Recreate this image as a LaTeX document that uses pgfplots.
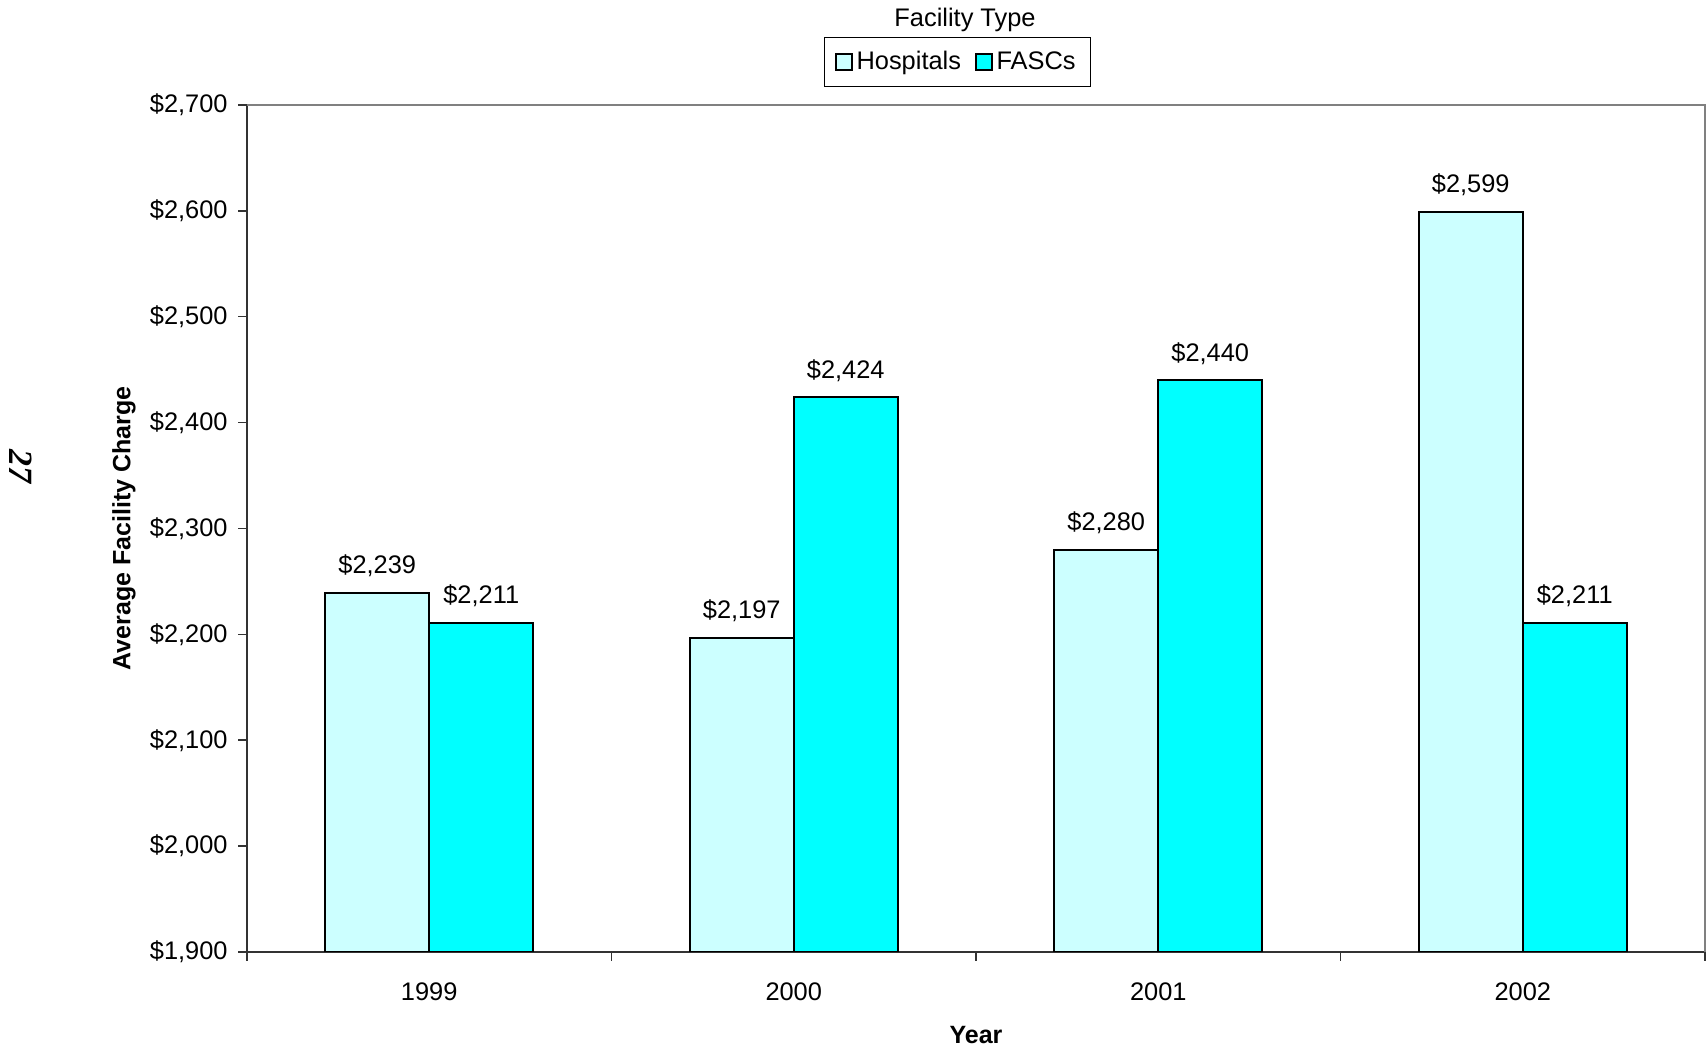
\documentclass[border=0pt]{standalone}
\usepackage{pgfplots}
\pgfplotsset{compat=1.18}
\usepackage{fontspec}
\setmainfont{Liberation Sans}
\newfontfamily\pagefont{Liberation Serif}
\definecolor{hosp}{HTML}{CCFFFF}
\definecolor{fasc}{HTML}{00FFFF}
\definecolor{axgray}{HTML}{808080}

\begin{document}
\begin{tikzpicture}
\useasboundingbox (0,0) rectangle (854pt,524pt);
\begin{axis}[
    name=ax,
    at={(123.5pt,48pt)}, anchor=south west,
    width=729pt, height=423.5pt, scale only axis,
    ybar=0pt, bar width=52pt,
    xmin=-0.5, xmax=3.5, ymin=1900, ymax=2700,
    axis lines=left,
    axis line style={-, black!80, line width=0.75pt},
    tick align=outside,
    major tick length=4.5pt, minor tick length=4.5pt,
    xtick={0,1,2,3}, xticklabels={1999,2000,2001,2002},
    minor xtick={-0.5,0.5,1.5,2.5,3.5},
    major x tick style={draw=none},
    minor x tick style={black!80, line width=0.75pt},
    major y tick style={black!80, line width=0.75pt},
    ytick={1900,2000,...,2700},
    yticklabels={{\$1,900},{\$2,000},{\$2,100},{\$2,200},{\$2,300},{\$2,400},{\$2,500},{\$2,600},{\$2,700}},
    tick label style={font=\fontsize{12.7}{15}\selectfont},
    yticklabel style={inner sep=0pt, xshift=-5pt},
    xticklabel style={anchor=north, inner sep=0pt, yshift=-10.5pt},
    xlabel={\textbf{Year}},
    ylabel={\textbf{Average Facility Charge}},
    label style={font=\fontsize{12.5}{15}\selectfont},
    xlabel style={at={(axis description cs:0.5,-0.098)}, anchor=center},
    ylabel style={at={(axis description cs:-0.0844,0.5)}, anchor=center},
    /pgf/number format/assume math mode=true,
    nodes near coords={\$\pgfmathprintnumber[1000 sep={,}]{\pgfplotspointmeta}},
    nodes near coords style={font=\fontsize{12.7}{15}\selectfont, anchor=base, inner sep=0pt, yshift=9.6pt},
    legend style={at={(axis description cs:0.4872,1.0508)}, anchor=center,
        draw=black, line width=0.5pt, font=\fontsize{12.7}{15}\selectfont,
        legend columns=-1, inner xsep=5.5pt, inner ysep=5pt,
        /tikz/every even column/.append style={column sep=5pt}},
    legend image code/.code={\draw[#1, line width=0.75pt] (0pt,-4pt) rectangle (8pt,4pt);},
]
\addplot[fill=hosp, draw=black, line width=1pt]
    coordinates {(0,2239)(1,2197)(2,2280)(3,2599)};
\addlegendentry{Hospitals}
\addplot[fill=fasc, draw=black, line width=1pt]
    coordinates {(0,2211)(1,2424)(2,2440)(3,2211)};
\addlegendentry{FASCs}
\end{axis}
\draw[axgray, line width=0.75pt] (ax.north west) -- (ax.north east) -- (ax.south east);
\node[font=\fontsize{12.7}{15}\selectfont] at (482.5pt,514pt) {Facility Type};
\node[font=\pagefont\bfseries\itshape\fontsize{17}{20}\selectfont, rotate=-90] at (10.5pt,290.5pt) {27};
\end{tikzpicture}
\end{document}
